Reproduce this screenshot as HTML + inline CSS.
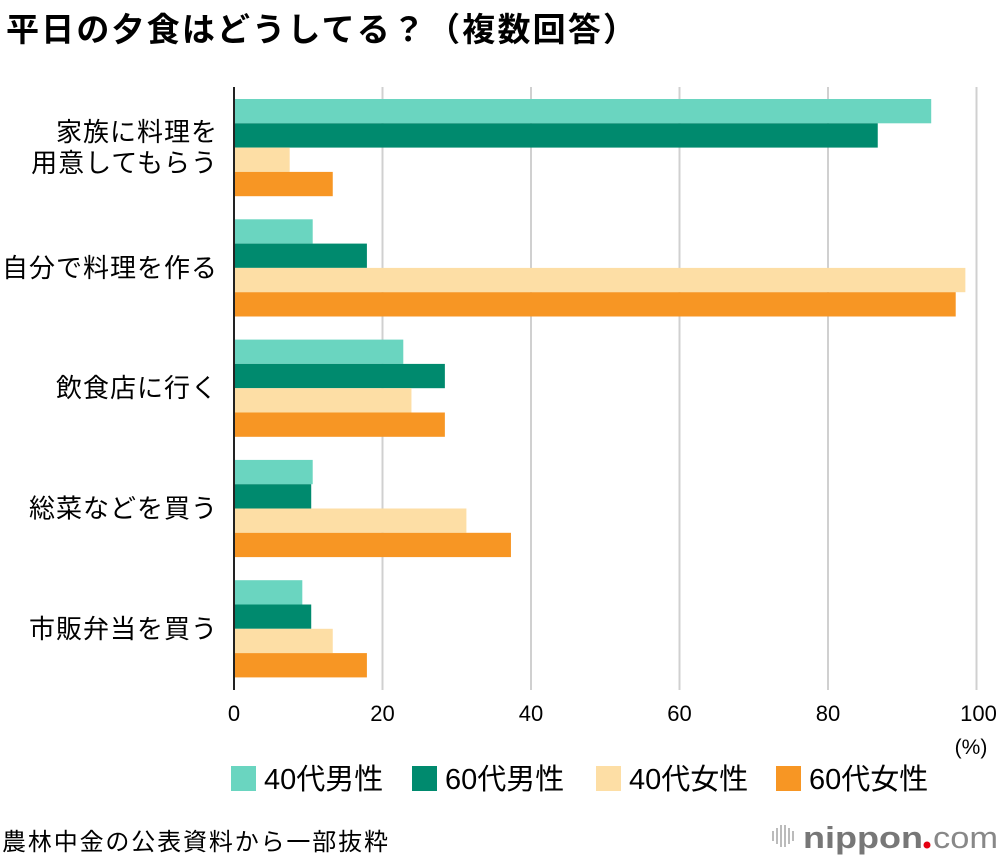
<!DOCTYPE html>
<html><head><meta charset="utf-8"><style>
body{margin:0;background:#fff;font-family:"Liberation Sans","Noto Sans CJK JP",sans-serif;}
#wrap{position:relative;width:1000px;height:860px;overflow:hidden;background:#fff}
</style></head><body>
<div id="wrap">
<svg id="chart" width="1000" height="860"></svg>
</div>
<script>
const categories=["家族に料理を\n用意してもらう","自分で料理を作る","飲食店に行く","総菜などを買う","市販弁当を買う"];
const seriesNames=["40代男性","60代男性","40代女性","60代女性"];
const men40=[93.9,10.6,22.8,10.6,9.2];
const men60=[86.7,17.9,28.4,10.4,10.4];
const women40=[7.5,98.5,23.9,31.3,13.3];
const women60=[13.3,97.2,28.4,37.3,17.9];
const ticks=[0,20,40,60,80,100];
const series=[men40,men60,women40,women60];
const colors=["#6ad5c0","#008a6e","#fddea5","#f79624"];
const NS="http://www.w3.org/2000/svg";
const svg=document.getElementById('chart');
const x0=234,x1=976.5,yTop=87,yBot=690,g0=99,gStep=120.3,bh=24.3;
const xs=v=>x0+(x1-x0)*v/100;
function mk(t,a,txt){const e=document.createElementNS(NS,t);for(const k in a)e.setAttribute(k,a[k]);if(txt!=null)e.textContent=txt;svg.appendChild(e);return e;}
let e=mk('text',{x:6,y:41,'font-size':33,'font-weight':'bold',fill:'#000',textLength:630,lengthAdjust:'spacing'},'平日の夕食はどうしてる？（複数回答）');

ticks.forEach(t=>{
  if(t>0){const l=mk('line',{x1:xs(t),x2:xs(t),y1:yTop,y2:yBot,stroke:'#d0d0d0','stroke-width':2});
  }
  const tx=mk('text',{x:xs(t)-(t==100?-2:0),y:721,'font-size':22,'text-anchor':'middle',fill:'#000'},String(t));
  
});
e=mk('text',{x:971,y:754,'font-size':21,'text-anchor':'middle',fill:'#000'},'(%)');

categories.forEach((c,i)=>{
  const gy=g0+i*gStep;
  series.forEach((s,j)=>{
    const r=mk('rect',{x:x0,y:gy+j*bh,width:xs(s[i])-x0,height:bh,fill:colors[j]});
    
  });
  const lines=c.split('\n');const cy=gy+2*bh;
  lines.forEach((ln,k)=>{
    const t=mk('text',{x:218,y:cy+9+(k-(lines.length-1)/2)*31,'font-size':26,'text-anchor':'end',fill:'#000','letter-spacing':1},ln);
    
  });
});
e=mk('line',{x1:x0,x2:x0,y1:yTop,y2:yBot,stroke:'#222','stroke-width':2});

const lx=[231,412,596,776];
seriesNames.forEach((n,j)=>{
  const r=mk('rect',{x:lx[j],y:766,width:25,height:25,fill:colors[j]});
  
  const t=mk('text',{x:lx[j]+33,y:789,'font-size':29,fill:'#000'},n);
  
});
e=mk('text',{x:2,y:850,'font-size':24,fill:'#000',textLength:386,lengthAdjust:'spacing'},'農林中金の公表資料から一部抜粋');

[0,4,8,12,16,20].forEach((d,k)=>{const h=[10,16,22,22,16,10][k];
  const l=mk('line',{x1:773+d,x2:773+d,y1:836-h/2,y2:836+h/2,stroke:'#bbb','stroke-width':2});
  });
e=mk('text',{x:803,y:848,'font-size':31,fill:'#777','font-weight':'bold',textLength:120,lengthAdjust:'spacingAndGlyphs'},'nippon');

e=mk('circle',{cx:927,cy:845,r:3.5,fill:'#e60012'});

e=mk('text',{x:933,y:848,'font-size':31,fill:'#888',textLength:65,lengthAdjust:'spacingAndGlyphs'},'com');

</script>
</body></html>
